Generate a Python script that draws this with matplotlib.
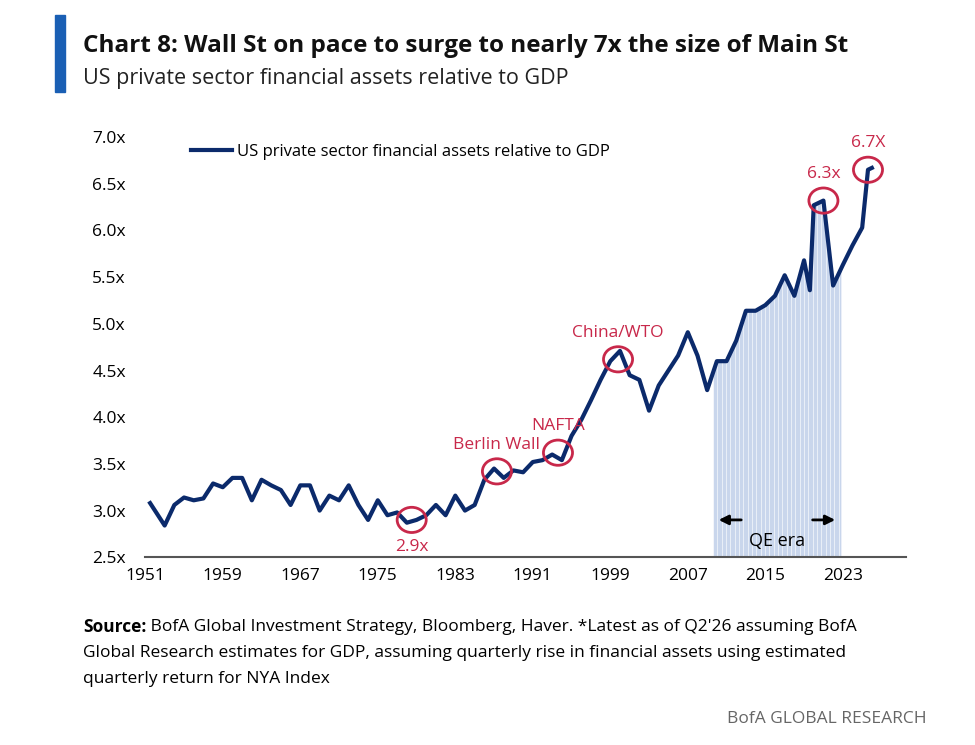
import matplotlib
matplotlib.use("Agg")
import matplotlib.pyplot as plt
import numpy as np

years = [1951.5,1952,1953,1954,1955,1956,1957,1958,1959,1960,1961,1962,1963,1964,1965,1966,1967,1968,1969,1970,
         1971,1972,1973,1974,1975,1976,1977,1978,1979,1980,1981,1982,1983,1984,1985,1986,1987,1988,1989,1990,
         1991,1992,1993,1994,1995,1996,1997,1998,1999,2000,2001,2002,2003,2004,2005,2006,2007,2008,2009,2010,
         2011,2012,2013,2014,2015,2016,2017,2018,2019,2019.6,2020,2021,2022,2023,2024,2025,2025.6,2026]
values = [3.08,3.0,2.84,3.06,3.14,3.11,3.13,3.29,3.25,3.35,3.35,3.11,3.33,3.27,3.22,3.06,3.27,3.27,3.0,3.16,
          3.11,3.27,3.06,2.9,3.11,2.95,2.98,2.87,2.9,2.95,3.06,2.95,3.16,3.0,3.06,3.33,3.45,3.35,3.43,3.41,
          3.52,3.54,3.6,3.54,3.8,3.97,4.18,4.4,4.6,4.71,4.45,4.4,4.07,4.34,4.5,4.66,4.91,4.66,4.29,4.6,
          4.6,4.82,5.14,5.14,5.2,5.3,5.52,5.3,5.68,5.36,6.27,6.32,5.41,5.63,5.84,6.03,6.65,6.67]
qe_start, qe_end = 2009.6, 2022.8
annotations = [("2.9x", 1978.5, 2.9, "below"), ("Berlin Wall", 1987.3, 3.42, "above"),
               ("NAFTA", 1993.6, 3.62, "above"), ("China/WTO", 1999.8, 4.62, "above"),
               ("6.3x", 2021.0, 6.32, "above"), ("6.7X", 2025.6, 6.65, "above")]
yticks = [2.5,3.0,3.5,4.0,4.5,5.0,5.5,6.0,6.5,7.0]
xticks = [1951,1959,1967,1975,1983,1991,1999,2007,2015,2023]

F = "Open Sans"
navy = "#0b2a6b"; red = "#c8284a"
fig = plt.figure(figsize=(9.75,7.45), dpi=100)
ax = fig.add_axes([0.149, 0.252, 0.78, 0.564])
x = np.array(years); y = np.array(values)
xs = np.linspace(qe_start, qe_end, 60)
ys = np.interp(xs, x, y)
ax.fill_between(xs, 2.5, ys, color="#c9d6ec", lw=0, zorder=1)
for xv, yv in zip(xs[::2], ys[::2]):
    ax.plot([xv,xv],[2.5,yv], color="white", lw=0.6, alpha=0.7, zorder=1.5)
ax.plot(x, y, color=navy, lw=3, zorder=3, label="US private sector financial assets relative to GDP")
for txt, xv, yv, pos in annotations:
    ax.add_patch(matplotlib.patches.Ellipse((xv, yv), 3.0, 0.27, fill=False, ec=red, lw=2, zorder=4, clip_on=False))
    if pos == "above":
        ax.text(xv, yv+0.2, txt, color=red, ha="center", va="bottom", fontsize=12.5, family=F)
    else:
        ax.text(xv, yv-0.2, txt, color=red, ha="center", va="top", fontsize=12.5, family=F)
ax.annotate("", xy=(qe_start+0.3, 2.9), xytext=(qe_start+3.2, 2.9), arrowprops=dict(arrowstyle="-|>", color="black", lw=2, mutation_scale=14))
ax.annotate("", xy=(qe_end-0.3, 2.9), xytext=(qe_end-3.2, 2.9), arrowprops=dict(arrowstyle="-|>", color="black", lw=2, mutation_scale=14))
ax.text((qe_start+qe_end)/2, 2.58, "QE era", ha="center", va="bottom", fontsize=13, family=F)
ax.set_xlim(1951, 2029.5); ax.set_ylim(2.5, 7.0)
ax.set_yticks(yticks); ax.set_yticklabels([f"{v:.1f}x" for v in yticks])
ax.set_xticks(xticks)
for s in ["top","right","left"]: ax.spines[s].set_visible(False)
ax.spines["bottom"].set_color("#555555"); ax.spines["bottom"].set_linewidth(1.5)
ax.tick_params(length=0, labelsize=12.5, pad=8)
for lab in ax.get_xticklabels()+ax.get_yticklabels(): lab.set_family(F)
ax.yaxis.set_tick_params(pad=14)
ax.legend(loc="upper left", bbox_to_anchor=(0.04, 1.02), frameon=False, prop={"family":F,"size":12}, handlelength=2.5, handletextpad=0.3)

fig.patches.append(matplotlib.patches.Rectangle((0.056, 0.877), 0.011, 0.103, transform=fig.transFigure, color="#1a5fb4"))
fig.text(0.085, 0.938, "Chart 8: Wall St on pace to surge to nearly 7x the size of Main St", fontsize=17.5, fontweight="bold", family=F, va="center", color="#111111")
fig.text(0.085, 0.895, "US private sector financial assets relative to GDP", fontsize=15.5, family=F, va="center", color="#222222")
src = fig.text(0.085, 0.158, "Source:", fontsize=12.5, fontweight="bold", family=F, va="center")
fig.canvas.draw()
ax.annotate(" BofA Global Investment Strategy, Bloomberg, Haver. *Latest as of Q2'26 assuming BofA", xy=(1, 0.5), xycoords=src,
            fontsize=12.5, family=F, va="center", ha="left", annotation_clip=False)
fig.text(0.085, 0.123, "Global Research estimates for GDP, assuming quarterly rise in financial assets using estimated", fontsize=12.5, family=F, va="center")
fig.text(0.085, 0.088, "quarterly return for NYA Index", fontsize=12.5, family=F, va="center")
fig.text(0.95, 0.035, "BofA GLOBAL RESEARCH", fontsize=12.5, family=F, va="center", ha="right", color="#666666")
fig.savefig("out.png", dpi=100, facecolor="white")
